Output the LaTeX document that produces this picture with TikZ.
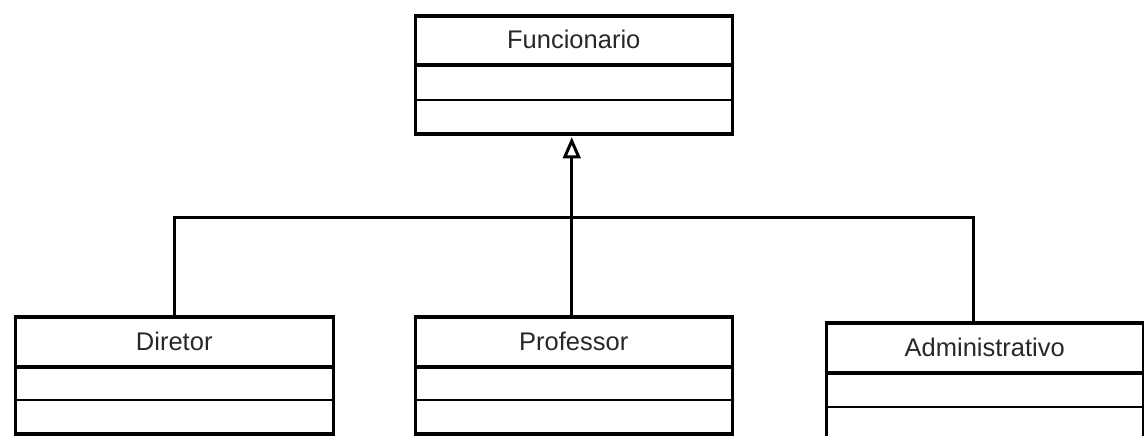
\documentclass[tikz,border=0pt]{standalone}
\usepackage{fontspec}
\setmainfont{Liberation Sans}
\usetikzlibrary{calc}
\definecolor{labelgray}{RGB}{40,40,40}
\tikzset{
  x=1pt, y=1pt,
  classbox/.style={draw, line width=3.5pt, anchor=north west, minimum width=317pt,
    minimum height=118pt, inner sep=0pt, fill=white},
  classname/.style={text=labelgray, font=\fontsize{25.5}{30}\selectfont, inner sep=0pt},
  headsep/.style={line width=3.5pt},
  rowsep/.style={line width=2pt},
  link/.style={line width=3pt},
  hollowtip/.style={line width=3pt, fill=white, line join=miter}
}
% draws one UML class: name, top-left corner, width, height, header height, row height, title
\newcommand{\umlclass}[7]{%
  \node[classbox, minimum width=#3, minimum height=#4] (#1) at #2 {};
  \node[classname] (#1-name) at ($(#1.north)+(0,-#5/2)$) {#7};
  \draw[headsep] ($(#1.north west)+(0,-#5)$) -- ($(#1.north east)+(0,-#5)$);
  \draw[rowsep] ($(#1.north west)+(0,-#5-#6)$) -- ($(#1.north east)+(0,-#5-#6)$);
}
\begin{document}
\begin{tikzpicture}
\useasboundingbox (0,0) rectangle (1144,436);
\fill[white] (0,0) rectangle (1144,436);

\umlclass{fun}{(413.5,421.5)}{317pt}{118pt}{50.5}{35}{Funcionario}
\umlclass{dir}{(13.5,120.5)}{318pt}{117pt}{51.5}{33}{Diretor}
\umlclass{pro}{(413.5,120.5)}{317pt}{117pt}{51.5}{33}{Professor}
\umlclass{adm}{(824.5,114.5)}{317pt}{117pt}{51.5}{34}{Administrativo}

% generalisation tree
\coordinate (bus) at ($(fun.south)+(-2,-81.5)$);
\coordinate (admTop) at ($(adm.north west)+(148.5,0)$);
\coordinate (tip) at ($(fun.south -| bus)+(0,-5)$);
\coordinate (tipbase) at ($(tip)+(0,-16)$);
\draw[link] (dir.north) |- (bus) -| (admTop);
\draw[link] (pro.north -| bus) -- (tipbase);
% hollow generalisation triangle
\draw[hollowtip] (tip) -- ($(tipbase)+(-7,0)$) -- ($(tipbase)+(7,0)$) -- cycle;
\end{tikzpicture}
\end{document}
